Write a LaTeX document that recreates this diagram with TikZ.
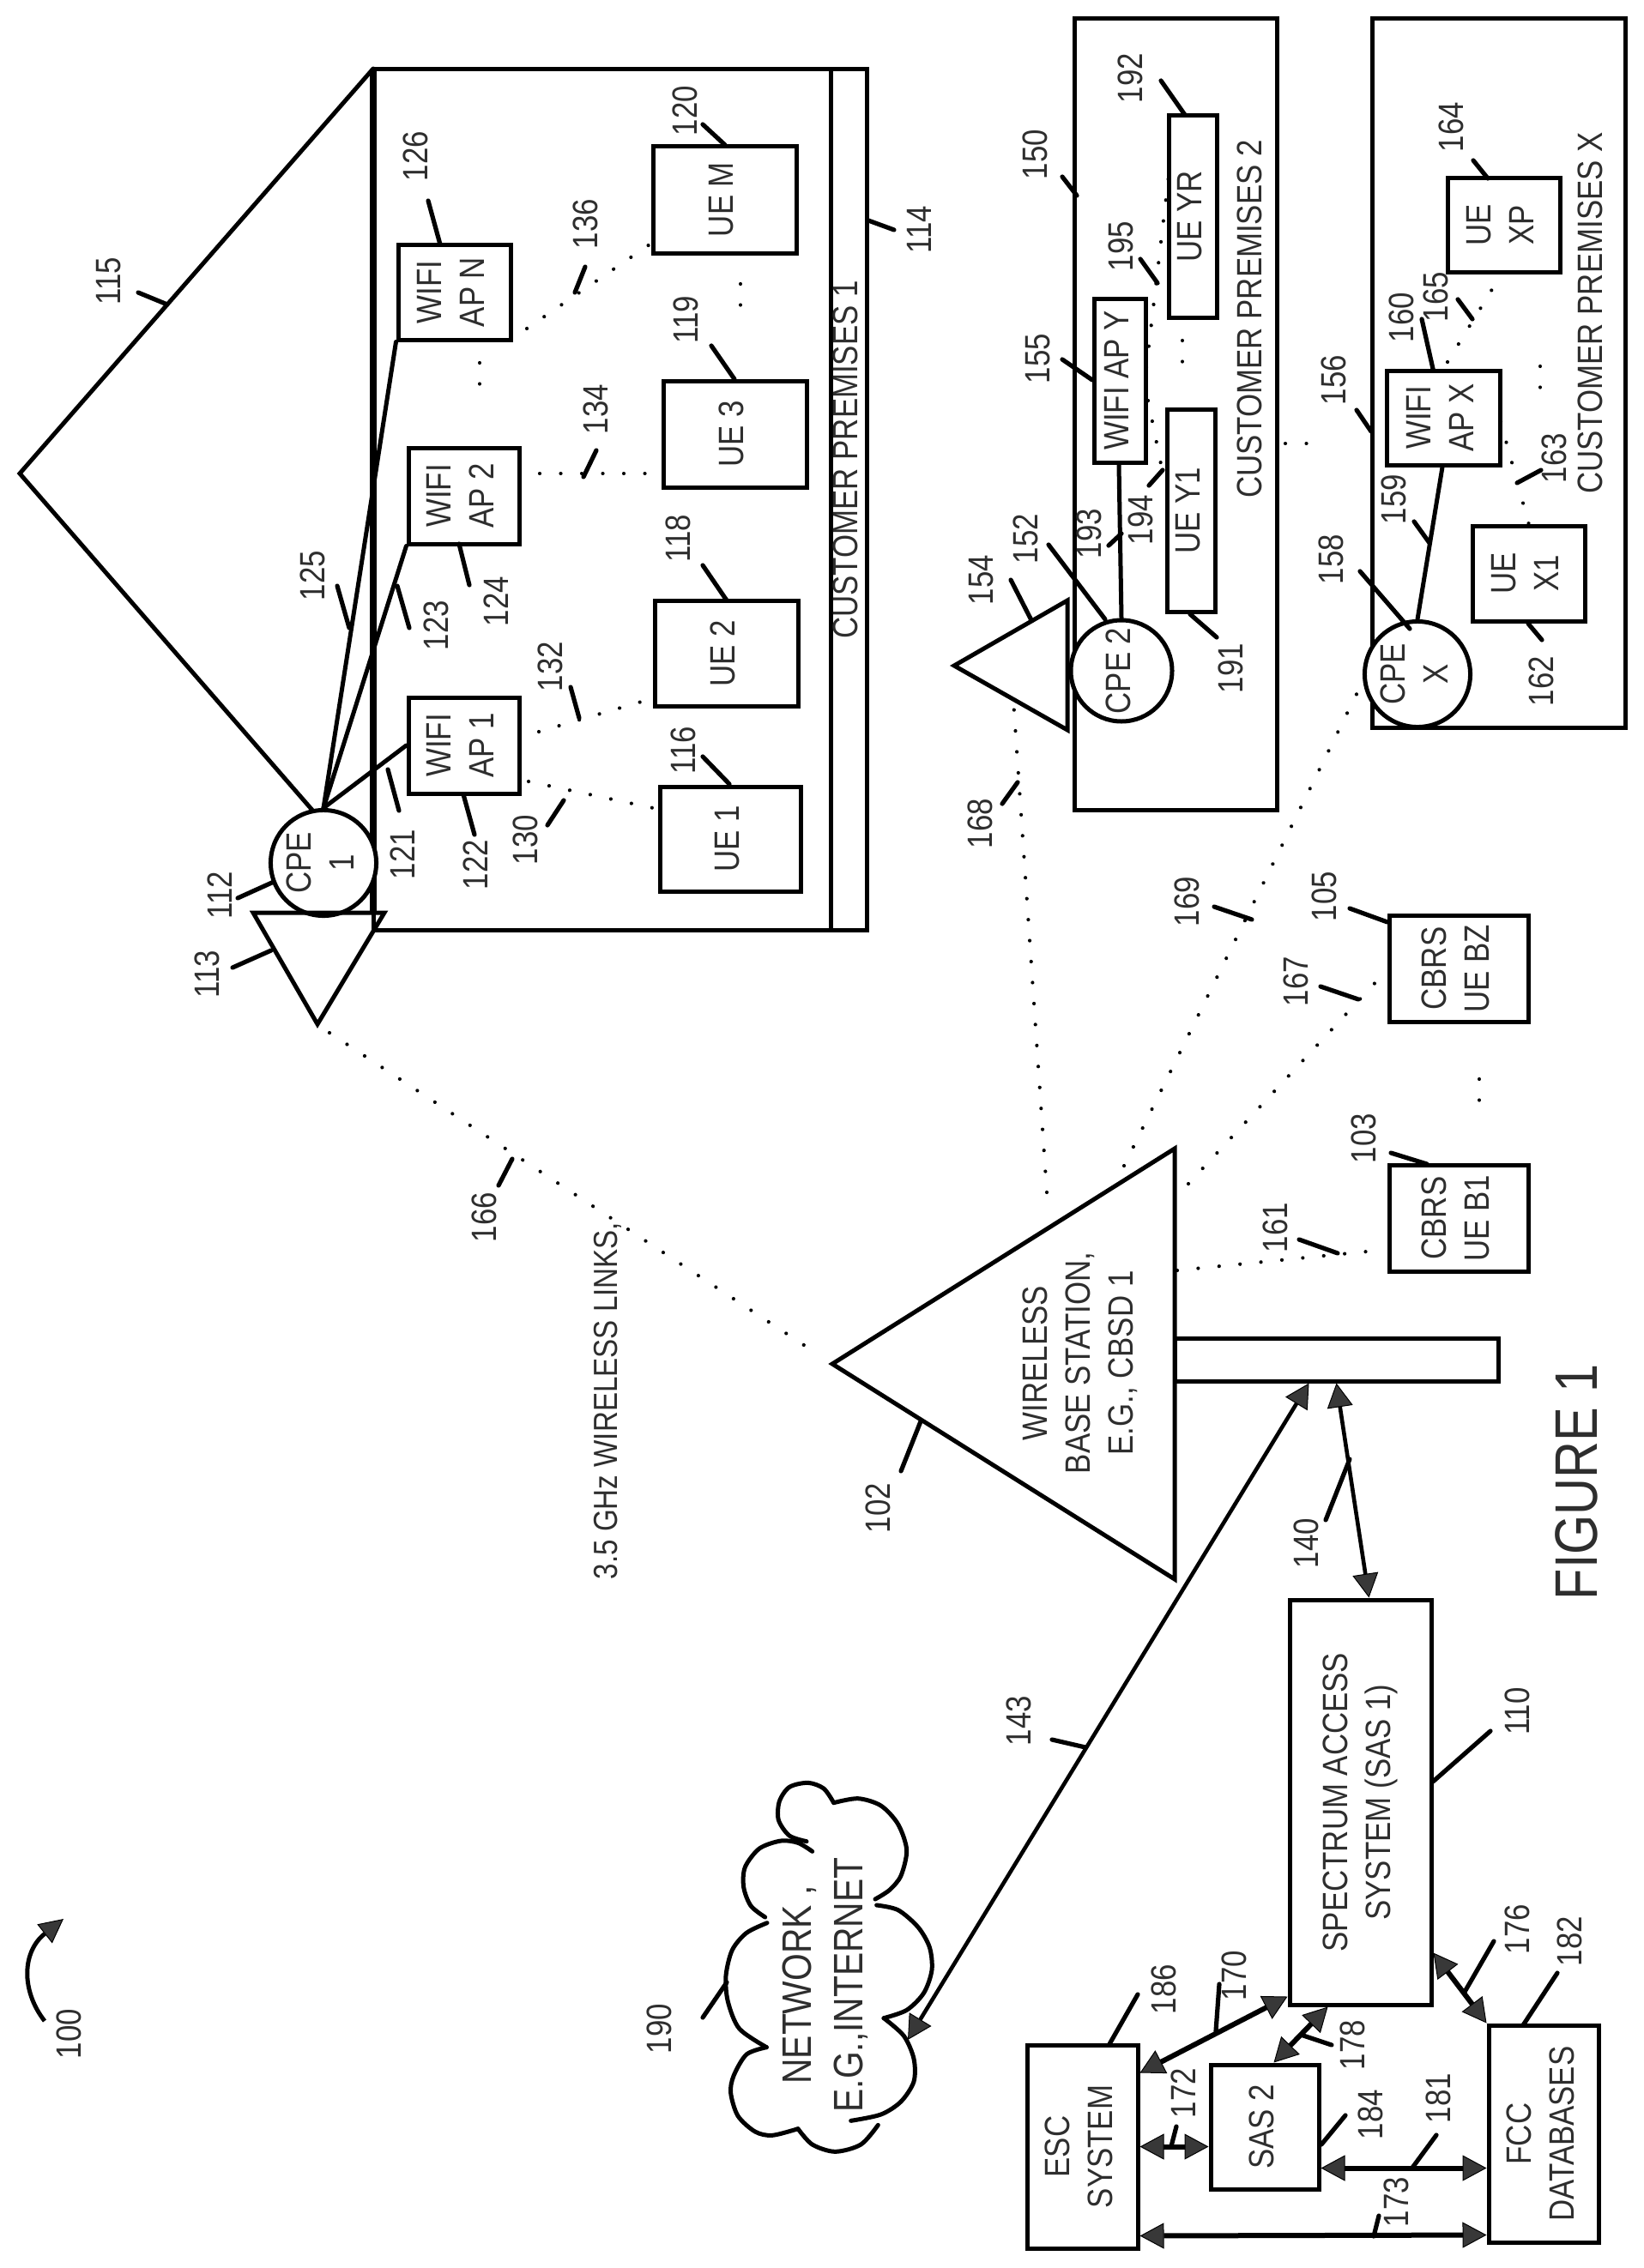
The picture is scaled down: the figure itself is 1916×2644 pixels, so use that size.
\documentclass[tikz,border=0pt]{standalone}
\usepackage{fontspec}
\usepackage{graphicx}
\setmainfont[FakeStretch=0.85]{Liberation Sans}
\usetikzlibrary{arrows.meta}
\newcommand{\R}[1]{\rotatebox{90}{\begin{tabular}{@{}c@{}}#1\end{tabular}}}
\colorlet{txt}{black!82}
\tikzset{
  ln/.style={line width=5pt,line cap=round,line join=miter},
  leader/.style={line width=5.2pt,line cap=round},
  dots/.style={line width=4.2pt,line cap=round,dash pattern=on 0.01pt off 24.5pt},
  lbl/.style={inner sep=0pt,text=txt,font=\fontsize{41}{50}\selectfont},
  big/.style={inner sep=0pt,text=txt,font=\fontsize{48}{60}\selectfont},
  box/.style={draw,line width=5pt,inner sep=0pt,text=txt,font=\fontsize{41}{50}\selectfont},
  cpe/.style={draw,circle,fill=white,line width=5pt,inner sep=0pt,minimum size=118pt,text=txt,font=\fontsize{41}{50}\selectfont},
  twoway/.style={line width=6pt,{Triangle[length=28pt,width=30pt,fill=black!78,line width=1pt]}-{Triangle[length=28pt,width=30pt,fill=black!78,line width=1pt]}},
  twowayt/.style={line width=4.6pt,{Triangle[length=28pt,width=30pt,fill=black!78,line width=1pt]}-{Triangle[length=28pt,width=30pt,fill=black!78,line width=1pt]}}
}
% name, x1,y1,x2,y2, text x, text y
\newcommand{\lead}[7]{%
  \coordinate (la#1) at (#2,#3); \coordinate (lb#1) at (#4,#5);
  \draw[leader] (la#1) -- (lb#1);
  \node[lbl] (t#1) at (#6,#7) {\R{#1}};}
% name, x1,y1,x2,y2
\newcommand{\dotlink}[5]{%
  \coordinate (da#1) at (#2,#3); \coordinate (db#1) at (#4,#5);
  \draw[dots] (da#1) -- (db#1);}
% name,x1,y1,x2,y2,text
\newcommand{\bx}[6]{%
  \pgfmathsetmacro{\bw}{#4-#2}\pgfmathsetmacro{\bh}{#5-#3}%
  \node[box,minimum width=\bw pt,minimum height=\bh pt] (#1) at ({(#2+#4)/2},{(#3+#5)/2}) {\R{#6}};}
\begin{document}
\begin{tikzpicture}[x=1pt,y=-1pt]
\useasboundingbox (0,0) rectangle (1916,2644);

% ---- Customer premises 1
\bx{house}{435}{81}{1010}{1084}{}
\coordinate (stripT) at (968,81); \coordinate (stripB) at (968,1084);
\draw[ln] (stripT) -- (stripB);
\coordinate (wallT) at (435,80); \coordinate (wallB) at (435,1064);
\draw[line width=7.5pt] (wallT) -- (wallB);
\coordinate (roofA) at (23,552); \coordinate (roofB) at (368,949);
\draw[ln] (wallT) -- (roofA) -- (roofB);
\node[cpe] (cpe1) at (377,1006) {\R{CPE\\1}};
\coordinate (a113a) at (295,1064); \coordinate (a113b) at (448,1064); \coordinate (a113c) at (370,1194);
\draw[ln,line join=miter] (a113a) -- (a113b) -- (a113c) -- cycle;

\bx{ap1}{476}{813}{605}{925}{WIFI\\AP 1}
\bx{ap2}{476}{522}{605}{634}{WIFI\\AP 2}
\bx{apn}{464}{285}{595}{396}{WIFI\\AP N}
\bx{ue1}{769}{917}{933}{1039}{UE 1}
\bx{ue2}{763}{700}{930}{823}{UE 2}
\bx{ue3}{773}{444}{940}{568}{UE 3}
\bx{uem}{761}{170}{928}{295}{UE M}
\draw[ln] (cpe1.north) -- (ap1.west);
\draw[ln] (cpe1.north) -- (ap2.south west);
\draw[ln] (cpe1.north) -- (apn.south west);
\node[lbl] (cp1) at (989,536) {\R{CUSTOMER PREMISES 1}};

\dotlink{1}{616}{911}{766}{943}
\dotlink{2}{628}{853}{751}{817}
\dotlink{3}{629}{552}{758}{552}
\dotlink{4}{614}{383}{760}{283}
\dotlink{5}{559}{423}{559}{472}
\dotlink{6}{863}{331}{863}{380}

\lead{115}{161}{341}{195}{355}{130}{328}
\lead{125}{393}{683}{407}{732}{368}{671}
\lead{123}{463}{683}{477}{732}{512}{729}
\lead{121}{452}{897}{465}{945}{473}{996}
\lead{122}{540}{926}{553}{973}{558}{1008}
\lead{124}{535}{634}{547}{682}{582}{701}
\lead{126}{499}{234}{513}{285}{488}{182}
\lead{112}{277}{1047}{319}{1028}{260}{1044}
\lead{113}{271}{1128}{316}{1108}{245}{1136}
\lead{130}{638}{962}{657}{933}{616}{979}
\lead{132}{665}{801}{675}{837}{645}{777}
\lead{134}{680}{556}{695}{525}{698}{477}
\lead{136}{670}{341}{682}{311}{686}{261}
\lead{116}{819}{882}{850}{914}{800}{875}
\lead{118}{819}{659}{847}{700}{794}{628}
\lead{119}{829}{403}{856}{442}{803}{373}
\lead{120}{819}{145}{845}{169}{802}{129}
\lead{114}{1012}{257}{1042}{268}{1075}{268}

% ---- Customer premises 2
\bx{prem2}{1252}{22}{1488}{944}{}
\coordinate (a154a) at (1112,776); \coordinate (a154b) at (1244,700); \coordinate (a154c) at (1244,851);
\draw[ln] (a154a) -- (a154b) -- (a154c) -- cycle;
\node[cpe] (cpe2) at (1307,782) {\R{CPE 2}};
\bx{apy}{1275}{348}{1335}{539}{WIFI AP Y}
\bx{uey1}{1360}{477}{1416}{713}{UE Y1}
\bx{ueyr}{1362}{135}{1418}{370}{UE YR}
\draw[ln] (cpe2.north) -- ([xshift=-1pt]apy.south);
\node[lbl] (cp2) at (1460,372) {\R{CUSTOMER PREMISES 2}};
\dotlink{7}{1338}{467}{1353}{541}
\dotlink{8}{1336}{428}{1362}{205}
\dotlink{9}{1378}{397}{1378}{444}
\dotlink{10}{1498}{517}{1546}{517}
\lead{193}{1292}{636}{1307}{622}{1273}{622}
\lead{194}{1339}{566}{1355}{548}{1333}{606}
\lead{195}{1329}{302}{1349}{330}{1310}{287}
\lead{155}{1238}{419}{1273}{443}{1213}{418}
\lead{152}{1222}{635}{1288}{722}{1199}{628}
\lead{154}{1178}{676}{1202}{723}{1147}{676}
\lead{191}{1387}{716}{1418}{743}{1438}{779}
\lead{192}{1353}{94}{1381}{134}{1321}{91}
\lead{150}{1238}{206}{1255}{228}{1210}{180}

% ---- Customer premises X
\bx{premx}{1599}{22}{1894}{848}{}
\node[cpe] (cpex) at (1652,786) {\R{CPE\\X}};
\bx{apx}{1616}{432}{1748}{542}{WIFI\\AP X}
\bx{uex1}{1716}{613}{1847}{724}{UE\\X1}
\bx{uexp}{1687}{207}{1818}{317}{UE\\XP}
\draw[ln] (cpex.north) -- ([xshift=-1pt,yshift=0pt]apx.south);
\node[lbl] (cpx) at (1857,365) {\R{CUSTOMER PREMISES X}};
\dotlink{11}{1687}{422}{1752}{316}
\dotlink{12}{1749}{492}{1782}{612}
\dotlink{13}{1795}{427}{1795}{474}
\lead{156}{1581}{478}{1598}{503}{1558}{443}
\lead{159}{1648}{608}{1666}{633}{1628}{582}
\lead{160}{1657}{372}{1670}{430}{1637}{370}
\lead{165}{1699}{349}{1716}{372}{1677}{346}
\lead{163}{1768}{563}{1796}{548}{1815}{534}
\lead{162}{1781}{727}{1797}{746}{1800}{794}
\lead{164}{1717}{187}{1734}{208}{1695}{148}
\lead{158}{1585}{666}{1643}{733}{1555}{652}

% ---- Base station
\coordinate (bsA) at (970,1590); \coordinate (bsB) at (1369,1339); \coordinate (bsC) at (1369,1841);
\draw[ln] (bsA) -- (bsB) -- (bsC) -- cycle;
\bx{tower}{1369}{1560}{1746}{1610}{}
\node[lbl] (bstext) at (1260,1589) {\R{WIRELESS\\BASE STATION,\\E.G., CBSD 1}};
\bx{uebz}{1619}{1067}{1781}{1191}{CBRS\\UE BZ}
\bx{ueb1}{1619}{1358}{1781}{1482}{CBRS\\UE B1}
\node[lbl,font=\fontsize{39}{50}\selectfont] (links) at (709,1633) {\R{3.5 GHz WIRELESS LINKS,}};
\node[inner sep=0pt,text=txt,font=\fontsize{70}{80}\selectfont] (fig) at (1845,1728) {\R{FIGURE 1}};
\dotlink{14}{384}{1204}{949}{1576}
\dotlink{15}{1220}{1390}{1181}{816}
\dotlink{16}{1310}{1359}{1587}{797}
\dotlink{17}{1385}{1380}{1607}{1141}
\dotlink{18}{1372}{1481}{1593}{1459}
\dotlink{19}{1724}{1258}{1724}{1305}
\lead{166}{597}{1351}{581}{1382}{568}{1419}
\lead{102}{1073}{1657}{1050}{1715}{1027}{1758}
\lead{161}{1514}{1445}{1559}{1461}{1490}{1431}
\lead{167}{1539}{1150}{1583}{1165}{1514}{1144}
\lead{105}{1573}{1059}{1617}{1075}{1547}{1045}
\lead{103}{1621}{1344}{1663}{1357}{1593}{1327}
\lead{169}{1415}{1057}{1459}{1072}{1387}{1051}
\lead{168}{1168}{937}{1186}{912}{1146}{960}

% ---- Lower systems
\bx{sas1}{1503}{1865}{1668}{2337}{SPECTRUM ACCESS\\SYSTEM (SAS 1)}
\bx{esc}{1197}{2384}{1326}{2621}{ESC\\SYSTEM}
\bx{sas2}{1411}{2407}{1537}{2552}{SAS 2}
\bx{fcc}{1735}{2361}{1863}{2614}{FCC\\DATABASES}
\coordinate (netend) at (1058,2378);
\draw[twowayt] (netend) -- ([xshift=-32pt]tower.south);
\draw[twowayt] (tower.south) -- ([xshift=95pt]sas1.north west);
\draw[twoway] ([yshift=-35pt]esc.north east) -- ([yshift=12pt]sas1.south west);
\draw[twoway] ([xshift=-55pt]sas2.north east) -- ([xshift=47pt]sas1.south west);
\draw[twoway] ([yshift=63pt]sas1.south east) -- (fcc.north west);
\draw[twoway] (esc.east) -- (esc.east -| sas2.west);
\draw[twoway] ([yshift=-48pt]sas2.east) -- ([yshift=-40pt]fcc.west);
\draw[twoway] ([yshift=-104pt]esc.east) -- ([yshift=-118pt]fcc.west);
\lead{140}{1573}{1701}{1545}{1772}{1526}{1799}
\lead{143}{1226}{2028}{1265}{2037}{1191}{2006}
\lead{110}{1737}{2018}{1670}{2077}{1772}{1995}
\lead{176}{1741}{2263}{1707}{2322}{1772}{2249}
\lead{182}{1815}{2300}{1775}{2361}{1833}{2263}
\lead{186}{1326}{2325}{1293}{2383}{1360}{2319}
\lead{170}{1421}{2313}{1417}{2368}{1442}{2303}
\lead{178}{1516}{2372}{1552}{2384}{1580}{2384}
\lead{172}{1371}{2479}{1365}{2502}{1383}{2440}
\lead{184}{1568}{2466}{1540}{2500}{1601}{2465}
\lead{181}{1674}{2489}{1646}{2527}{1680}{2446}
\lead{173}{1607}{2583}{1601}{2607}{1631}{2567}
\lead{190}{847}{2311}{819}{2352}{772}{2365}

% ---- Cloud
\begin{scope}[shift={(820pt,-2040pt)},x=0.33333pt,y=-0.33333pt,line width=5pt,line cap=round]
\draw plot[smooth] coordinates {(380,355)(330,325)(270,318)(195,345)(145,410)(140,480)(165,545)(215,585)};
\draw plot[smooth] coordinates {(360,320)(300,300)(262,245)(265,180)(300,130)(365,115)(420,135)(455,185)};
\draw plot[smooth] coordinates {(455,185)(540,170)(620,195)(680,260)(710,350)(690,440)(650,490)(600,522)};
\draw plot[smooth] coordinates {(222,605)(150,640)(100,700)(78,790)(85,880)(125,975)(220,1040)};
\draw plot[smooth] coordinates {(220,1040)(150,1065)(105,1140)(95,1200)(120,1280)(180,1335)(240,1348)(330,1325)};
\draw plot[smooth] coordinates {(330,1325)(380,1380)(460,1405)(550,1380)(610,1312)};
\draw plot[smooth] coordinates {(605,543)(680,560)(750,620)(790,690)(798,770)(770,850)(710,910)(630,938)};
\draw plot[smooth] coordinates {(630,938)(700,1000)(735,1080)(735,1160)(690,1230)(620,1275)(515,1297)};
\end{scope}
\node[big] (net) at (963,2314) {\R{NETWORK ,\\E.G.,INTERNET}};

% ---- Reference 100
\coordinate (h1) at (52,2356); \coordinate (h2) at (74,2237);
\draw[line width=5pt,-{Triangle[length=28pt,width=28pt,fill=black!78,line width=1pt]}] (h1) .. controls (24,2320) and (26,2275) .. (h2);
\node[lbl] (t100) at (84,2371) {\R{100}};
\end{tikzpicture}
\end{document}
